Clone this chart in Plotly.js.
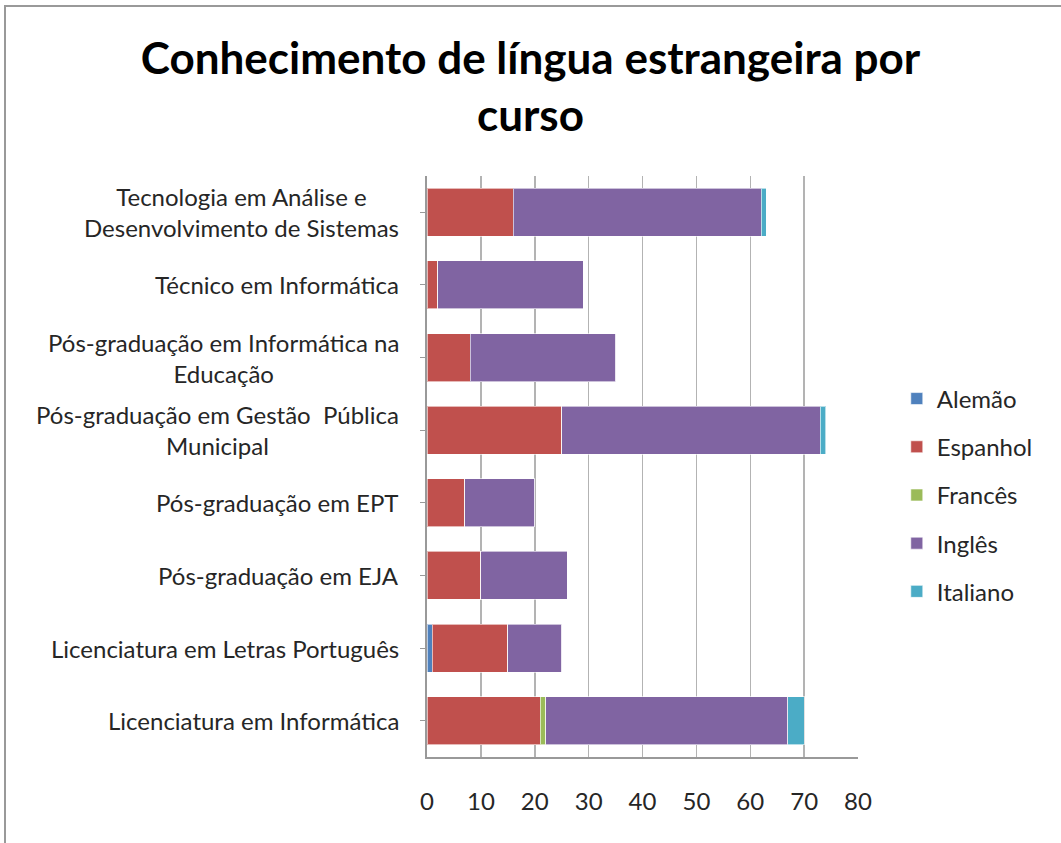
<!DOCTYPE html>
<html>
<head>
<meta charset="utf-8">
<script src="https://cdn.plot.ly/plotly-3.0.1.min.js"></script>
<style>
  html, body { margin: 0; padding: 0; background: #fff; }
  #frame { position: absolute; left: 4px; top: 5px; width: 1100px; height: 900px;
           border-left: 2px solid #999; border-top: 2px solid #999; pointer-events: none; }
  #chart { width: 1061px; height: 843px; }
</style>
</head>
<body>
<div id="chart"></div>
<div id="frame"></div>
<script>
// Categories, top to bottom
const categories = [
  "Tecnologia em Análise e<br>Desenvolvimento de Sistemas",
  "Técnico em Informática",
  "Pós-graduação em Informática na<br>Educação",
  "Pós-graduação em Gestão  Pública<br>Municipal",
  "Pós-graduação em EPT",
  "Pós-graduação em EJA",
  "Licenciatura em Letras Português",
  "Licenciatura em Informática"
];
const alemao   = [0, 0, 0, 0, 0, 0, 1, 0];
const espanhol = [16, 2, 8, 25, 7, 10, 14, 21];
const frances  = [0, 0, 0, 0, 0, 0, 0, 1];
const ingles   = [46, 27, 27, 48, 13, 16, 10, 45];
const italiano = [1, 0, 0, 1, 0, 0, 0, 3];
const xTicks = [0, 10, 20, 30, 40, 50, 60, 70, 80];

const seriesNames = ["Alemão", "Espanhol", "Francês", "Inglês", "Italiano"];
const seriesData = [alemao, espanhol, frances, ingles, italiano];
const colors = ["#4F81BD", "#C0504D", "#9BBB59", "#8064A2", "#4BACC6"];

const FONT = "Lato, 'Open Sans', sans-serif";

const traces = seriesNames.map((name, i) => ({
  type: "bar",
  orientation: "h",
  name: name,
  y: categories,
  x: seriesData[i],
  legendgroup: name,
  marker: { color: colors[i], line: { color: "rgba(255,255,255,0.6)", width: 1 } },
  hoverinfo: "x+name"
}));

const annotations = categories.map(c => ({
  xref: "paper", yref: "y", x: 0, y: c,
  xanchor: "right", yanchor: "middle", xshift: -26,
  text: c, showarrow: false, align: "center",
  font: { family: FONT, size: 24, color: "#262626" }
}));

const layout = {
  width: 1061, height: 843,
  margin: { l: 427, r: 203, t: 176, b: 86 },
  paper_bgcolor: "#fff", plot_bgcolor: "#fff",
  barmode: "stack",
  bargap: 0.34,
  title: {
    text: "Conhecimento de língua estrangeira por<br>curso",
    font: { family: FONT, size: 44, color: "#000", weight: "bold" },
    x: 0.5, xref: "container", xanchor: "center",
    y: 0.912, yref: "container", yanchor: "top"
  },
  xaxis: {
    range: [0, 80], tickvals: xTicks, ticktext: xTicks.map(String),
    showgrid: true, gridcolor: "#b3b3b3", gridwidth: 1.5,
    showline: true, linecolor: "#999", linewidth: 2,
    zeroline: false, ticks: "", ticklabelstandoff: 22,
    tickfont: { family: FONT, size: 24, color: "#262626" }, fixedrange: true
  },
  yaxis: {
    type: "category", autorange: "reversed",
    showticklabels: false, showgrid: false,
    showline: true, linecolor: "#999", linewidth: 2,
    ticks: "outside", ticklen: 5, tickcolor: "#999", fixedrange: true
  },
  legend: {
    x: 1.09, xanchor: "left", y: 0.451, yanchor: "middle",
    traceorder: "grouped", tracegroupgap: 14,
    font: { family: FONT, size: 24, color: "#262626" },
    itemclick: false, itemdoubleclick: false
  },
  annotations: annotations,
  showlegend: true
};

Plotly.newPlot("chart", traces, layout, { displayModeBar: false, staticPlot: true });
</script>
</body>
</html>
